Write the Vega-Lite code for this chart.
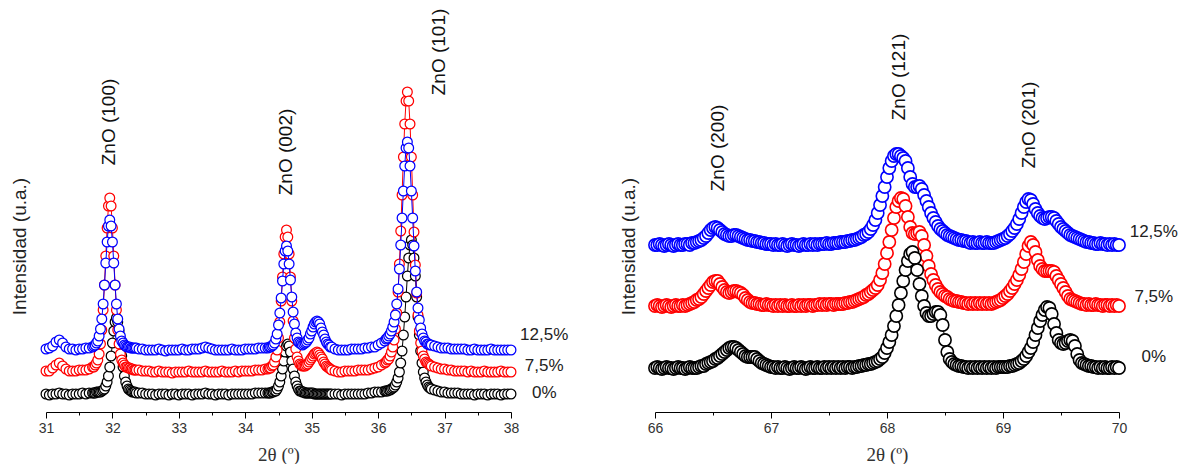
{
"$schema": "https://vega.github.io/schema/vega-lite/v6.json",
"background": "white",
"padding": {"left": 10, "top": 0, "right": 5, "bottom": 0},
"autosize": {"type": "pad"},
"spacing": 144,
"bounds": "flush",
"config": {"view": {"stroke": null}, "font": "Liberation Sans"},
"datasets": {
"L": [
{"x":31,"k":18,"r":41,"b":63},{"x":31.05,"k":17,"r":41,"b":64},{"x":31.1,"k":18,"r":44,"b":66},{"x":31.15,"k":18,"r":47,"b":70},{"x":31.2,"k":19,"r":49,"b":72},{"x":31.25,"k":18,"r":46,"b":69},{"x":31.3,"k":18,"r":43,"b":65},{"x":31.35,"k":17,"r":41,"b":63},{"x":31.4,"k":18,"r":41,"b":63},{"x":31.45,"k":18,"r":41,"b":62},{"x":31.5,"k":18,"r":42,"b":63},{"x":31.55,"k":19,"r":42,"b":63},{"x":31.6,"k":18,"r":42,"b":64},{"x":31.65,"k":19,"r":43,"b":64},
{"x":31.7,"k":19,"r":45,"b":65},{"x":31.72,"k":19,"r":45,"b":66},{"x":31.74,"k":19,"r":47,"b":67},{"x":31.76,"k":20,"r":49,"b":69},{"x":31.78,"k":20,"r":52,"b":71},{"x":31.8,"k":20,"r":58,"b":76},{"x":31.82,"k":20,"r":68,"b":83},{"x":31.84,"k":21,"r":82,"b":93},{"x":31.86,"k":22,"r":102,"b":108},{"x":31.88,"k":23,"r":127,"b":127},{"x":31.9,"k":26,"r":156,"b":149},{"x":31.92,"k":30,"r":184,"b":170},{"x":31.94,"k":36,"r":206,"b":186},{"x":31.96,"k":45,"r":214,"b":192},{"x":31.98,"k":56,"r":206,"b":186},{"x":32,"k":69,"r":184,"b":170},{"x":32.02,"k":81,"r":156,"b":149},{"x":32.04,"k":90,"r":127,"b":127},{"x":32.06,"k":94,"r":102,"b":108},{"x":32.08,"k":90,"r":82,"b":93},{"x":32.1,"k":81,"r":68,"b":83},{"x":32.12,"k":69,"r":58,"b":76},{"x":32.14,"k":56,"r":52,"b":71},{"x":32.16,"k":45,"r":49,"b":69},{"x":32.18,"k":36,"r":47,"b":67},{"x":32.2,"k":30,"r":45,"b":66},{"x":32.22,"k":26,"r":45,"b":65},{"x":32.24,"k":23,"r":44,"b":65},{"x":32.26,"k":22,"r":44,"b":65},{"x":32.28,"k":21,"r":43,"b":64},{"x":32.3,"k":20,"r":43,"b":64},{"x":32.32,"k":20,"r":42,"b":64},{"x":32.34,"k":20,"r":42,"b":64},{"x":32.36,"k":19,"r":42,"b":64},
{"x":32.4,"k":19,"r":42,"b":63},{"x":32.45,"k":19,"r":41,"b":63},{"x":32.5,"k":18,"r":41,"b":62},{"x":32.55,"k":18,"r":41,"b":62},{"x":32.6,"k":18,"r":40,"b":62},{"x":32.65,"k":17,"r":40,"b":62},{"x":32.7,"k":18,"r":41,"b":63},{"x":32.75,"k":18,"r":40,"b":62},{"x":32.8,"k":18,"r":40,"b":61},{"x":32.85,"k":17,"r":40,"b":62},{"x":32.9,"k":18,"r":39,"b":62},{"x":32.95,"k":18,"r":40,"b":62},{"x":33,"k":17,"r":40,"b":62},{"x":33.05,"k":18,"r":40,"b":63},{"x":33.1,"k":18,"r":40,"b":62},{"x":33.15,"k":18,"r":41,"b":62},{"x":33.2,"k":17,"r":40,"b":63},{"x":33.25,"k":18,"r":40,"b":63},{"x":33.3,"k":18,"r":40,"b":63},{"x":33.35,"k":18,"r":40,"b":64},{"x":33.4,"k":19,"r":41,"b":65},{"x":33.45,"k":18,"r":40,"b":64},{"x":33.5,"k":18,"r":40,"b":63},{"x":33.55,"k":17,"r":40,"b":62},{"x":33.6,"k":18,"r":40,"b":62},{"x":33.65,"k":18,"r":41,"b":62},{"x":33.7,"k":18,"r":40,"b":62},{"x":33.75,"k":17,"r":40,"b":62},{"x":33.8,"k":18,"r":40,"b":63},{"x":33.85,"k":18,"r":41,"b":62},{"x":33.9,"k":18,"r":40,"b":62},{"x":33.95,"k":18,"r":41,"b":62},{"x":34,"k":18,"r":41,"b":63},{"x":34.05,"k":18,"r":41,"b":63},{"x":34.1,"k":18,"r":41,"b":63},{"x":34.15,"k":19,"r":42,"b":63},{"x":34.2,"k":19,"r":42,"b":64},{"x":34.25,"k":19,"r":42,"b":64},{"x":34.3,"k":19,"r":43,"b":64},
{"x":34.34,"k":19,"r":43,"b":64},{"x":34.36,"k":19,"r":44,"b":65},{"x":34.38,"k":19,"r":44,"b":65},{"x":34.4,"k":20,"r":46,"b":66},{"x":34.42,"k":20,"r":47,"b":67},{"x":34.44,"k":21,"r":50,"b":69},{"x":34.46,"k":21,"r":55,"b":73},{"x":34.48,"k":23,"r":62,"b":78},{"x":34.5,"k":26,"r":74,"b":87},{"x":34.52,"k":30,"r":90,"b":99},{"x":34.54,"k":36,"r":111,"b":114},{"x":34.56,"k":43,"r":135,"b":131},{"x":34.58,"k":51,"r":158,"b":148},{"x":34.6,"k":60,"r":175,"b":161},{"x":34.62,"k":66,"r":182,"b":166},{"x":34.64,"k":68,"r":175,"b":161},{"x":34.66,"k":66,"r":158,"b":148},{"x":34.68,"k":60,"r":135,"b":132},{"x":34.7,"k":51,"r":111,"b":115},{"x":34.72,"k":43,"r":91,"b":100},{"x":34.74,"k":36,"r":74,"b":88},{"x":34.76,"k":30,"r":63,"b":79},{"x":34.78,"k":26,"r":55,"b":74},{"x":34.8,"k":23,"r":51,"b":70},{"x":34.82,"k":21,"r":48,"b":69},{"x":34.84,"k":21,"r":47,"b":68},{"x":34.86,"k":20,"r":46,"b":67},{"x":34.88,"k":20,"r":46,"b":68},{"x":34.9,"k":19,"r":46,"b":69},{"x":34.92,"k":19,"r":47,"b":70},{"x":34.94,"k":19,"r":48,"b":72},{"x":34.96,"k":19,"r":50,"b":74},{"x":34.98,"k":19,"r":52,"b":78},{"x":35,"k":19,"r":54,"b":81},{"x":35.02,"k":19,"r":56,"b":85},{"x":35.04,"k":18,"r":58,"b":88},{"x":35.06,"k":18,"r":59,"b":90},{"x":35.08,"k":18,"r":60,"b":91},{"x":35.1,"k":18,"r":59,"b":90},{"x":35.12,"k":18,"r":57,"b":88},{"x":35.14,"k":18,"r":55,"b":84},{"x":35.16,"k":18,"r":53,"b":80},{"x":35.18,"k":18,"r":50,"b":77},{"x":35.2,"k":18,"r":48,"b":73},{"x":35.22,"k":18,"r":46,"b":70},{"x":35.24,"k":18,"r":45,"b":68},{"x":35.26,"k":18,"r":44,"b":67},{"x":35.28,"k":18,"r":43,"b":65},{"x":35.3,"k":18,"r":42,"b":65},
{"x":35.35,"k":18,"r":41,"b":63},{"x":35.4,"k":18,"r":40,"b":62},{"x":35.45,"k":17,"r":40,"b":62},{"x":35.5,"k":18,"r":41,"b":62},{"x":35.55,"k":18,"r":41,"b":62},{"x":35.6,"k":18,"r":41,"b":63},{"x":35.65,"k":18,"r":41,"b":63},{"x":35.7,"k":18,"r":42,"b":63},{"x":35.75,"k":18,"r":42,"b":63},{"x":35.8,"k":18,"r":42,"b":64},{"x":35.85,"k":19,"r":42,"b":64},{"x":35.9,"k":19,"r":43,"b":65},{"x":35.95,"k":20,"r":44,"b":65},{"x":36,"k":20,"r":45,"b":67},{"x":36.05,"k":20,"r":47,"b":69},
{"x":36.1,"k":21,"r":49,"b":71},{"x":36.12,"k":21,"r":50,"b":73},{"x":36.14,"k":21,"r":52,"b":74},{"x":36.16,"k":22,"r":53,"b":76},{"x":36.18,"k":22,"r":56,"b":78},{"x":36.2,"k":23,"r":60,"b":81},{"x":36.22,"k":24,"r":65,"b":85},{"x":36.24,"k":25,"r":72,"b":90},{"x":36.26,"k":27,"r":83,"b":97},{"x":36.28,"k":30,"r":99,"b":108},{"x":36.3,"k":34,"r":120,"b":123},{"x":36.32,"k":40,"r":148,"b":143},{"x":36.34,"k":49,"r":181,"b":167},{"x":36.36,"k":61,"r":217,"b":194},{"x":36.38,"k":77,"r":255,"b":221},{"x":36.4,"k":95,"r":288,"b":246},{"x":36.42,"k":115,"r":311,"b":264},{"x":36.44,"k":136,"r":320,"b":270},{"x":36.46,"k":154,"r":311,"b":264},{"x":36.48,"k":167,"r":288,"b":246},{"x":36.5,"k":172,"r":255,"b":221},{"x":36.52,"k":167,"r":217,"b":194},{"x":36.54,"k":154,"r":180,"b":166},{"x":36.56,"k":136,"r":147,"b":141},{"x":36.58,"k":115,"r":119,"b":120},{"x":36.6,"k":95,"r":97,"b":104},{"x":36.62,"k":77,"r":81,"b":92},{"x":36.64,"k":61,"r":69,"b":84},{"x":36.66,"k":49,"r":61,"b":78},{"x":36.68,"k":40,"r":56,"b":74},{"x":36.7,"k":34,"r":53,"b":71},{"x":36.72,"k":30,"r":50,"b":70},{"x":36.74,"k":27,"r":49,"b":68},{"x":36.76,"k":25,"r":48,"b":68},{"x":36.78,"k":24,"r":47,"b":67},{"x":36.8,"k":23,"r":46,"b":67},
{"x":36.85,"k":22,"r":45,"b":66},{"x":36.9,"k":21,"r":44,"b":65},{"x":36.95,"k":20,"r":43,"b":64},{"x":37,"k":20,"r":43,"b":64},{"x":37.05,"k":19,"r":42,"b":64},{"x":37.1,"k":19,"r":42,"b":63},{"x":37.15,"k":19,"r":41,"b":63},{"x":37.2,"k":19,"r":41,"b":63},{"x":37.25,"k":18,"r":41,"b":63},{"x":37.3,"k":18,"r":41,"b":63},{"x":37.35,"k":18,"r":40,"b":62},{"x":37.4,"k":18,"r":41,"b":62},{"x":37.45,"k":17,"r":40,"b":63},{"x":37.5,"k":18,"r":40,"b":62},{"x":37.55,"k":18,"r":40,"b":62},{"x":37.6,"k":18,"r":41,"b":62},{"x":37.65,"k":17,"r":40,"b":62},{"x":37.7,"k":18,"r":40,"b":63},{"x":37.75,"k":18,"r":40,"b":62},{"x":37.8,"k":18,"r":40,"b":62},{"x":37.85,"k":17,"r":41,"b":62},{"x":37.9,"k":18,"r":40,"b":62},{"x":37.95,"k":18,"r":40,"b":62},{"x":38,"k":18,"r":40,"b":62}
],
"R": [
{"x":66,"k":44,"r":106,"b":167},{"x":66.02,"k":45,"r":107,"b":167},{"x":66.04,"k":44,"r":106,"b":168},{"x":66.06,"k":43,"r":105,"b":167},{"x":66.08,"k":44,"r":106,"b":166},{"x":66.1,"k":45,"r":107,"b":167},{"x":66.12,"k":44,"r":106,"b":168},{"x":66.14,"k":44,"r":105,"b":167},{"x":66.16,"k":43,"r":106,"b":166},{"x":66.18,"k":44,"r":107,"b":167},{"x":66.2,"k":45,"r":106,"b":168},{"x":66.22,"k":44,"r":106,"b":167},{"x":66.24,"k":44,"r":107,"b":167},{"x":66.26,"k":43,"r":106,"b":168},{"x":66.28,"k":44,"r":107,"b":168},{"x":66.3,"k":45,"r":108,"b":167},{"x":66.32,"k":44,"r":109,"b":169},{"x":66.34,"k":44,"r":110,"b":169},{"x":66.36,"k":44,"r":112,"b":170},{"x":66.38,"k":45,"r":113,"b":171},{"x":66.4,"k":46,"r":115,"b":172},{"x":66.42,"k":46,"r":118,"b":174},{"x":66.44,"k":48,"r":121,"b":176},{"x":66.46,"k":49,"r":124,"b":179},{"x":66.48,"k":50,"r":127,"b":182},{"x":66.5,"k":51,"r":130,"b":184},{"x":66.52,"k":53,"r":131,"b":185},{"x":66.54,"k":54,"r":131,"b":184},{"x":66.56,"k":56,"r":128,"b":182},{"x":66.58,"k":58,"r":125,"b":180},{"x":66.6,"k":60,"r":122,"b":178},{"x":66.62,"k":62,"r":120,"b":177},{"x":66.64,"k":64,"r":119,"b":176},{"x":66.66,"k":65,"r":120,"b":176},{"x":66.68,"k":65,"r":121,"b":177},{"x":66.7,"k":64,"r":121,"b":177},{"x":66.72,"k":62,"r":120,"b":176},{"x":66.74,"k":60,"r":119,"b":175},{"x":66.76,"k":58,"r":117,"b":174},{"x":66.78,"k":56,"r":114,"b":173},{"x":66.8,"k":55,"r":112,"b":172},{"x":66.82,"k":55,"r":110,"b":172},{"x":66.84,"k":55,"r":109,"b":171},{"x":66.86,"k":55,"r":109,"b":171},{"x":66.88,"k":53,"r":108,"b":170},{"x":66.9,"k":51,"r":108,"b":170},{"x":66.92,"k":49,"r":107,"b":169},{"x":66.94,"k":48,"r":107,"b":169},{"x":66.96,"k":47,"r":108,"b":168},{"x":66.98,"k":46,"r":107,"b":168},{"x":67,"k":45,"r":107,"b":168},
{"x":67.02,"k":45,"r":106,"b":167},{"x":67.04,"k":44,"r":107,"b":168},{"x":67.06,"k":45,"r":106,"b":167},{"x":67.08,"k":44,"r":107,"b":167},{"x":67.1,"k":44,"r":106,"b":168},{"x":67.12,"k":45,"r":107,"b":167},{"x":67.14,"k":44,"r":106,"b":166},{"x":67.16,"k":43,"r":106,"b":167},{"x":67.18,"k":44,"r":107,"b":168},{"x":67.2,"k":45,"r":106,"b":167},{"x":67.22,"k":44,"r":106,"b":167},{"x":67.24,"k":44,"r":107,"b":166},{"x":67.26,"k":45,"r":106,"b":167},{"x":67.28,"k":44,"r":107,"b":168},{"x":67.3,"k":43,"r":106,"b":167},{"x":67.32,"k":44,"r":107,"b":167},{"x":67.34,"k":45,"r":107,"b":168},{"x":67.36,"k":44,"r":106,"b":167},{"x":67.38,"k":44,"r":107,"b":168},{"x":67.4,"k":45,"r":107,"b":167},{"x":67.42,"k":44,"r":108,"b":168},{"x":67.44,"k":44,"r":107,"b":168},{"x":67.46,"k":45,"r":108,"b":168},{"x":67.48,"k":44,"r":107,"b":169},{"x":67.5,"k":45,"r":108,"b":168},{"x":67.52,"k":44,"r":108,"b":168},{"x":67.54,"k":45,"r":107,"b":169},{"x":67.56,"k":44,"r":108,"b":169},{"x":67.58,"k":45,"r":108,"b":169},{"x":67.6,"k":44,"r":108,"b":170},{"x":67.62,"k":45,"r":108,"b":170},{"x":67.64,"k":44,"r":109,"b":170},{"x":67.66,"k":45,"r":109,"b":171},{"x":67.68,"k":45,"r":110,"b":171},{"x":67.7,"k":44,"r":110,"b":172},{"x":67.72,"k":45,"r":111,"b":172},{"x":67.74,"k":45,"r":112,"b":173},{"x":67.76,"k":46,"r":113,"b":174},{"x":67.78,"k":46,"r":114,"b":175},{"x":67.8,"k":47,"r":115,"b":177},{"x":67.82,"k":47,"r":117,"b":178},{"x":67.84,"k":48,"r":118,"b":180},{"x":67.86,"k":48,"r":120,"b":183},{"x":67.88,"k":49,"r":122,"b":187},{"x":67.9,"k":50,"r":124,"b":192},{"x":67.92,"k":51,"r":127,"b":199},{"x":67.94,"k":53,"r":132,"b":207},{"x":67.96,"k":55,"r":139,"b":216},{"x":67.98,"k":59,"r":148,"b":225},{"x":68,"k":64,"r":159,"b":235},
{"x":68.02,"k":70,"r":170,"b":244},{"x":68.04,"k":77,"r":182,"b":251},{"x":68.06,"k":86,"r":194,"b":256},{"x":68.08,"k":96,"r":205,"b":258},{"x":68.1,"k":107,"r":211,"b":258},{"x":68.12,"k":119,"r":214,"b":256},{"x":68.14,"k":131,"r":213,"b":254},{"x":68.16,"k":142,"r":206,"b":251},{"x":68.18,"k":151,"r":195,"b":244},{"x":68.2,"k":158,"r":185,"b":235},{"x":68.22,"k":160,"r":179,"b":228},{"x":68.24,"k":154,"r":178,"b":225},{"x":68.26,"k":142,"r":179,"b":225},{"x":68.28,"k":128,"r":180,"b":226},{"x":68.3,"k":116,"r":176,"b":223},{"x":68.32,"k":106,"r":167,"b":217},{"x":68.34,"k":99,"r":156,"b":211},{"x":68.36,"k":96,"r":146,"b":205},{"x":68.38,"k":96,"r":138,"b":199},{"x":68.4,"k":98,"r":132,"b":194},{"x":68.42,"k":100,"r":127,"b":190},{"x":68.44,"k":100,"r":123,"b":186},{"x":68.46,"k":97,"r":120,"b":183},{"x":68.48,"k":87,"r":118,"b":181},{"x":68.5,"k":72,"r":116,"b":179},{"x":68.52,"k":60,"r":115,"b":177},{"x":68.54,"k":53,"r":113,"b":176},{"x":68.56,"k":50,"r":112,"b":175},{"x":68.58,"k":48,"r":111,"b":174},{"x":68.6,"k":47,"r":111,"b":173},{"x":68.62,"k":46,"r":110,"b":172},{"x":68.64,"k":46,"r":110,"b":172},{"x":68.66,"k":45,"r":109,"b":171},{"x":68.68,"k":45,"r":109,"b":171},{"x":68.7,"k":44,"r":108,"b":170},{"x":68.72,"k":45,"r":109,"b":169},{"x":68.74,"k":44,"r":108,"b":170},{"x":68.76,"k":45,"r":109,"b":169},{"x":68.78,"k":44,"r":108,"b":169},{"x":68.8,"k":45,"r":109,"b":170},{"x":68.82,"k":44,"r":108,"b":169},{"x":68.84,"k":45,"r":109,"b":169},{"x":68.86,"k":44,"r":108,"b":170},{"x":68.88,"k":45,"r":109,"b":169},{"x":68.9,"k":44,"r":108,"b":169},{"x":68.92,"k":45,"r":109,"b":169},{"x":68.94,"k":44,"r":110,"b":170},{"x":68.96,"k":45,"r":111,"b":171},{"x":68.98,"k":45,"r":112,"b":172},{"x":69,"k":45,"r":114,"b":173},
{"x":69.02,"k":45,"r":116,"b":174},{"x":69.04,"k":45,"r":118,"b":176},{"x":69.06,"k":46,"r":121,"b":178},{"x":69.08,"k":46,"r":124,"b":181},{"x":69.1,"k":47,"r":128,"b":184},{"x":69.12,"k":48,"r":132,"b":188},{"x":69.14,"k":49,"r":137,"b":193},{"x":69.16,"k":51,"r":143,"b":199},{"x":69.18,"k":53,"r":150,"b":205},{"x":69.2,"k":56,"r":158,"b":210},{"x":69.22,"k":60,"r":166,"b":213},{"x":69.24,"k":64,"r":170,"b":212},{"x":69.26,"k":70,"r":167,"b":208},{"x":69.28,"k":77,"r":160,"b":203},{"x":69.3,"k":84,"r":152,"b":199},{"x":69.32,"k":91,"r":146,"b":196},{"x":69.34,"k":97,"r":143,"b":194},{"x":69.36,"k":102,"r":141,"b":193},{"x":69.38,"k":105,"r":141,"b":194},{"x":69.4,"k":104,"r":141,"b":195},{"x":69.42,"k":98,"r":141,"b":195},{"x":69.44,"k":88,"r":140,"b":194},{"x":69.46,"k":79,"r":136,"b":191},{"x":69.48,"k":72,"r":132,"b":188},{"x":69.5,"k":69,"r":128,"b":185},{"x":69.52,"k":68,"r":124,"b":183},{"x":69.54,"k":69,"r":120,"b":181},{"x":69.56,"k":71,"r":116,"b":179},{"x":69.58,"k":72,"r":113,"b":177},{"x":69.6,"k":71,"r":112,"b":176},{"x":69.62,"k":66,"r":111,"b":175},{"x":69.64,"k":58,"r":110,"b":174},{"x":69.66,"k":52,"r":109,"b":173},{"x":69.68,"k":49,"r":108,"b":172},{"x":69.7,"k":48,"r":108,"b":171},{"x":69.72,"k":47,"r":107,"b":170},{"x":69.74,"k":46,"r":108,"b":170},{"x":69.76,"k":46,"r":107,"b":169},{"x":69.78,"k":45,"r":107,"b":169},{"x":69.8,"k":45,"r":108,"b":168},{"x":69.82,"k":44,"r":107,"b":168},{"x":69.84,"k":45,"r":107,"b":169},{"x":69.86,"k":44,"r":106,"b":168},{"x":69.88,"k":45,"r":107,"b":168},{"x":69.9,"k":44,"r":107,"b":167},{"x":69.92,"k":44,"r":106,"b":168},{"x":69.94,"k":45,"r":107,"b":167},{"x":69.96,"k":44,"r":106,"b":168},{"x":69.98,"k":45,"r":107,"b":167},{"x":70,"k":44,"r":106,"b":167}
],
"LA": [{"x":31.95,"y":290,"t":"ZnO (100)"},{"x":34.62,"y":260,"t":"ZnO (002)"},{"x":36.91,"y":360,"t":"ZnO (101)"}],
"LP": [{"x":38.5,"y":77,"t":"12,5%"},{"x":38.5,"y":46,"t":"7,5%"},{"x":38.5,"y":19,"t":"0%"}],
"RA": [{"x":66.545,"y":264,"t":"ZnO (200)"},{"x":68.1,"y":335,"t":"ZnO (121)"},{"x":69.22,"y":287,"t":"ZnO (201)"}],
"RP": [{"x":70.3,"y":180,"t":"12,5%"},{"x":70.3,"y":115,"t":"7,5%"},{"x":70.3,"y":55,"t":"0%"}]
},
"hconcat": [
{
"width": 465, "height": 412,
"encoding": {"x": {"field": "x", "type": "quantitative", "scale": {"domain": [31, 38], "nice": false, "zero": false},
  "axis": {"values": [31,31.5,32,32.5,33,33.5,34,34.5,35,35.5,36,36.5,37,37.5,38], "labelExpr": "datum.value % 1 === 0 ? format(datum.value, 'd') : ''", "tickSize": {"condition": {"test": "datum.value % 1 === 0", "value": 6}, "value": 3}, "grid": false, "domainColor": "#000", "tickColor": "#000", "labelColor": "#333", "labelFont": "Liberation Sans", "labelFontSize": 14, "labelPadding": 3, "labelOverlap": false, "labelFlush": false, "title": "2θ (º)", "titleFont": "Liberation Serif", "titleFontSize": 19, "titleFontWeight": "normal", "titleColor": "#333", "titlePadding": 10}}},
"layer": [
{"data": {"name": "L"}, "mark": {"type": "line", "color": "#000", "strokeWidth": 1}, "encoding": {"y": {"field": "k", "type": "quantitative", "scale": {"domain": [0, 412], "nice": false, "zero": false}, "axis": {"title": "Intensidad (u.a.)", "domain": false, "ticks": false, "labels": false, "grid": false, "titleFont": "Liberation Sans", "titleFontSize": 19, "titleFontWeight": "normal", "titleColor": "#222", "titleX": -27, "titleY": 246, "titleAngle": 270, "titleAlign": "center", "titleBaseline": "middle"}}}},
{"data": {"name": "L"}, "mark": {"type": "point", "shape": "circle", "size": 95, "filled": false, "fill": "#fff", "stroke": "#000", "strokeWidth": 1.25, "opacity": 1}, "encoding": {"y": {"field": "k", "type": "quantitative", "scale": {"domain": [0, 412], "nice": false, "zero": false}, "axis": {"title": "Intensidad (u.a.)", "domain": false, "ticks": false, "labels": false, "grid": false, "titleFont": "Liberation Sans", "titleFontSize": 19, "titleFontWeight": "normal", "titleColor": "#222", "titleX": -27, "titleY": 246, "titleAngle": 270, "titleAlign": "center", "titleBaseline": "middle"}}}},
{"data": {"name": "L"}, "mark": {"type": "line", "color": "#ff0000", "strokeWidth": 1}, "encoding": {"y": {"field": "r", "type": "quantitative", "scale": {"domain": [0, 412], "nice": false, "zero": false}, "axis": {"title": "Intensidad (u.a.)", "domain": false, "ticks": false, "labels": false, "grid": false, "titleFont": "Liberation Sans", "titleFontSize": 19, "titleFontWeight": "normal", "titleColor": "#222", "titleX": -27, "titleY": 246, "titleAngle": 270, "titleAlign": "center", "titleBaseline": "middle"}}}},
{"data": {"name": "L"}, "mark": {"type": "point", "shape": "circle", "size": 95, "filled": false, "fill": "#fff", "stroke": "#ff0000", "strokeWidth": 1.25, "opacity": 1}, "encoding": {"y": {"field": "r", "type": "quantitative", "scale": {"domain": [0, 412], "nice": false, "zero": false}, "axis": {"title": "Intensidad (u.a.)", "domain": false, "ticks": false, "labels": false, "grid": false, "titleFont": "Liberation Sans", "titleFontSize": 19, "titleFontWeight": "normal", "titleColor": "#222", "titleX": -27, "titleY": 246, "titleAngle": 270, "titleAlign": "center", "titleBaseline": "middle"}}}},
{"data": {"name": "L"}, "mark": {"type": "line", "color": "#0000ff", "strokeWidth": 1}, "encoding": {"y": {"field": "b", "type": "quantitative", "scale": {"domain": [0, 412], "nice": false, "zero": false}, "axis": {"title": "Intensidad (u.a.)", "domain": false, "ticks": false, "labels": false, "grid": false, "titleFont": "Liberation Sans", "titleFontSize": 19, "titleFontWeight": "normal", "titleColor": "#222", "titleX": -27, "titleY": 246, "titleAngle": 270, "titleAlign": "center", "titleBaseline": "middle"}}}},
{"data": {"name": "L"}, "mark": {"type": "point", "shape": "circle", "size": 95, "filled": false, "fill": "#fff", "stroke": "#0000ff", "strokeWidth": 1.25, "opacity": 1}, "encoding": {"y": {"field": "b", "type": "quantitative", "scale": {"domain": [0, 412], "nice": false, "zero": false}, "axis": {"title": "Intensidad (u.a.)", "domain": false, "ticks": false, "labels": false, "grid": false, "titleFont": "Liberation Sans", "titleFontSize": 19, "titleFontWeight": "normal", "titleColor": "#222", "titleX": -27, "titleY": 246, "titleAngle": 270, "titleAlign": "center", "titleBaseline": "middle"}}}},
{"data": {"name": "LA"}, "mark": {"type": "text", "angle": 270, "font": "Liberation Sans", "fontSize": 19, "color": "#111", "align": "center", "baseline": "middle"}, "encoding": {"y": {"field": "y", "type": "quantitative", "scale": {"domain": [0, 412], "nice": false, "zero": false}, "axis": {"title": "Intensidad (u.a.)", "domain": false, "ticks": false, "labels": false, "grid": false, "titleFont": "Liberation Sans", "titleFontSize": 19, "titleFontWeight": "normal", "titleColor": "#222", "titleX": -27, "titleY": 246, "titleAngle": 270, "titleAlign": "center", "titleBaseline": "middle"}}, "text": {"field": "t"}}},
{"data": {"name": "LP"}, "mark": {"type": "text", "font": "Liberation Sans", "fontSize": 17, "color": "#222", "align": "center", "baseline": "middle"}, "encoding": {"y": {"field": "y", "type": "quantitative", "scale": {"domain": [0, 412], "nice": false, "zero": false}, "axis": {"title": "Intensidad (u.a.)", "domain": false, "ticks": false, "labels": false, "grid": false, "titleFont": "Liberation Sans", "titleFontSize": 19, "titleFontWeight": "normal", "titleColor": "#222", "titleX": -27, "titleY": 246, "titleAngle": 270, "titleAlign": "center", "titleBaseline": "middle"}}, "text": {"field": "t"}}}
]
},
{
"width": 464, "height": 412,
"encoding": {"x": {"field": "x", "type": "quantitative", "scale": {"domain": [66, 70], "nice": false, "zero": false},
  "axis": {"values": [66,66.5,67,67.5,68,68.5,69,69.5,70], "labelExpr": "datum.value % 1 === 0 ? format(datum.value, 'd') : ''", "tickSize": {"condition": {"test": "datum.value % 1 === 0", "value": 6}, "value": 3}, "grid": false, "domainColor": "#000", "tickColor": "#000", "labelColor": "#333", "labelFont": "Liberation Sans", "labelFontSize": 14, "labelPadding": 3, "labelOverlap": false, "labelFlush": false, "title": "2θ (º)", "titleFont": "Liberation Serif", "titleFontSize": 19, "titleFontWeight": "normal", "titleColor": "#333", "titlePadding": 10}}},
"layer": [
{"data": {"name": "R"}, "mark": {"type": "line", "color": "#ff0000", "strokeWidth": 1}, "encoding": {"y": {"field": "r", "type": "quantitative", "scale": {"domain": [0, 412], "nice": false, "zero": false}, "axis": {"title": "Intensidad (u.a.)", "domain": false, "ticks": false, "labels": false, "grid": false, "titleFont": "Liberation Sans", "titleFontSize": 19, "titleFontWeight": "normal", "titleColor": "#222", "titleX": -27, "titleY": 246, "titleAngle": 270, "titleAlign": "center", "titleBaseline": "middle"}}}},
{"data": {"name": "R"}, "mark": {"type": "point", "shape": "circle", "size": 150, "filled": false, "fill": "#fff", "stroke": "#ff0000", "strokeWidth": 1.6, "opacity": 1}, "encoding": {"y": {"field": "r", "type": "quantitative", "scale": {"domain": [0, 412], "nice": false, "zero": false}, "axis": {"title": "Intensidad (u.a.)", "domain": false, "ticks": false, "labels": false, "grid": false, "titleFont": "Liberation Sans", "titleFontSize": 19, "titleFontWeight": "normal", "titleColor": "#222", "titleX": -27, "titleY": 246, "titleAngle": 270, "titleAlign": "center", "titleBaseline": "middle"}}}},
{"data": {"name": "R"}, "mark": {"type": "line", "color": "#0000ff", "strokeWidth": 1}, "encoding": {"y": {"field": "b", "type": "quantitative", "scale": {"domain": [0, 412], "nice": false, "zero": false}, "axis": {"title": "Intensidad (u.a.)", "domain": false, "ticks": false, "labels": false, "grid": false, "titleFont": "Liberation Sans", "titleFontSize": 19, "titleFontWeight": "normal", "titleColor": "#222", "titleX": -27, "titleY": 246, "titleAngle": 270, "titleAlign": "center", "titleBaseline": "middle"}}}},
{"data": {"name": "R"}, "mark": {"type": "point", "shape": "circle", "size": 150, "filled": false, "fill": "#fff", "stroke": "#0000ff", "strokeWidth": 1.6, "opacity": 1}, "encoding": {"y": {"field": "b", "type": "quantitative", "scale": {"domain": [0, 412], "nice": false, "zero": false}, "axis": {"title": "Intensidad (u.a.)", "domain": false, "ticks": false, "labels": false, "grid": false, "titleFont": "Liberation Sans", "titleFontSize": 19, "titleFontWeight": "normal", "titleColor": "#222", "titleX": -27, "titleY": 246, "titleAngle": 270, "titleAlign": "center", "titleBaseline": "middle"}}}},
{"data": {"name": "R"}, "mark": {"type": "line", "color": "#000", "strokeWidth": 1}, "encoding": {"y": {"field": "k", "type": "quantitative", "scale": {"domain": [0, 412], "nice": false, "zero": false}, "axis": {"title": "Intensidad (u.a.)", "domain": false, "ticks": false, "labels": false, "grid": false, "titleFont": "Liberation Sans", "titleFontSize": 19, "titleFontWeight": "normal", "titleColor": "#222", "titleX": -27, "titleY": 246, "titleAngle": 270, "titleAlign": "center", "titleBaseline": "middle"}}}},
{"data": {"name": "R"}, "mark": {"type": "point", "shape": "circle", "size": 150, "filled": false, "fill": "#fff", "stroke": "#000", "strokeWidth": 1.6, "opacity": 1}, "encoding": {"y": {"field": "k", "type": "quantitative", "scale": {"domain": [0, 412], "nice": false, "zero": false}, "axis": {"title": "Intensidad (u.a.)", "domain": false, "ticks": false, "labels": false, "grid": false, "titleFont": "Liberation Sans", "titleFontSize": 19, "titleFontWeight": "normal", "titleColor": "#222", "titleX": -27, "titleY": 246, "titleAngle": 270, "titleAlign": "center", "titleBaseline": "middle"}}}},
{"data": {"name": "RA"}, "mark": {"type": "text", "angle": 270, "font": "Liberation Sans", "fontSize": 19, "color": "#111", "align": "center", "baseline": "middle"}, "encoding": {"y": {"field": "y", "type": "quantitative", "scale": {"domain": [0, 412], "nice": false, "zero": false}, "axis": {"title": "Intensidad (u.a.)", "domain": false, "ticks": false, "labels": false, "grid": false, "titleFont": "Liberation Sans", "titleFontSize": 19, "titleFontWeight": "normal", "titleColor": "#222", "titleX": -27, "titleY": 246, "titleAngle": 270, "titleAlign": "center", "titleBaseline": "middle"}}, "text": {"field": "t"}}},
{"data": {"name": "RP"}, "mark": {"type": "text", "font": "Liberation Sans", "fontSize": 17, "color": "#222", "align": "center", "baseline": "middle"}, "encoding": {"y": {"field": "y", "type": "quantitative", "scale": {"domain": [0, 412], "nice": false, "zero": false}, "axis": {"title": "Intensidad (u.a.)", "domain": false, "ticks": false, "labels": false, "grid": false, "titleFont": "Liberation Sans", "titleFontSize": 19, "titleFontWeight": "normal", "titleColor": "#222", "titleX": -27, "titleY": 246, "titleAngle": 270, "titleAlign": "center", "titleBaseline": "middle"}}, "text": {"field": "t"}}}
]
}
]
}
